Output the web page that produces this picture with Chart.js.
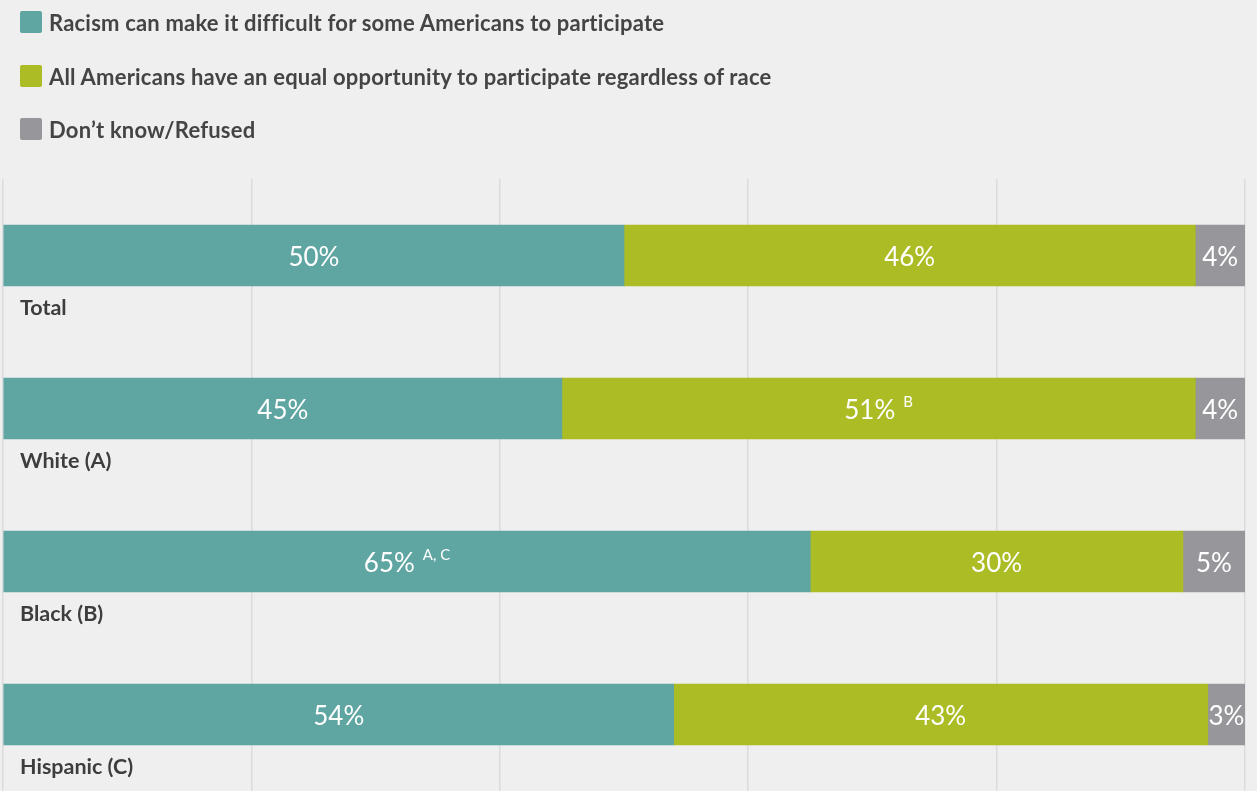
<!DOCTYPE html>
<html><head><meta charset="utf-8">
<script src="https://cdn.jsdelivr.net/npm/chart.js@4/dist/chart.umd.min.js"></script>
<style>
html,body{margin:0;padding:0;background:#efefef;overflow:hidden;}
#wrap{position:relative;width:1257px;height:791px;}
#legend{position:absolute;left:20px;top:0;font-family:Lato,"Open Sans",sans-serif;font-weight:bold;font-size:22px;letter-spacing:0.2px;color:#444;}
.li{position:absolute;left:0;white-space:nowrap;display:flex;align-items:center;height:24px;}
.sw{width:22px;height:22px;border-radius:2px;margin-right:7px;}
canvas{position:absolute;left:0;top:0;}
</style></head>
<body><div id="wrap"><canvas id="c" width="1257" height="791"></canvas><div id="legend"></div></div>
<script>
const categories = ["Total", "White (A)", "Black (B)", "Hispanic (C)"];
const seriesNames = ["Racism can make it difficult for some Americans to participate", "All Americans have an equal opportunity to participate regardless of race", "Don\u2019t know/Refused"];
const racism = [50, 45, 65, 54];
const equal = [46, 51, 30, 43];
const dontKnow = [4, 4, 5, 3];
const racismNotes = ["", "", "A, C", ""];
const equalNotes = ["", "B", "", ""];
const dontKnowNotes = ["", "", "", ""];
const colors = ["#5fa5a2", "#acbc25", "#97979b"];
const xTicks = [0, 20, 40, 60, 80, 100];

const leg = document.getElementById('legend');
const legTops = [10, 64, 117];
seriesNames.forEach((n,i)=>{
  const d=document.createElement('div');d.className='li';d.style.top=legTops[i]+'px';
  d.innerHTML='<span class="sw" style="background:'+colors[i]+'"></span><span>'+n+'</span>';
  leg.appendChild(d);
});

const notes = [racismNotes, equalNotes, dontKnowNotes];
const FONT='Lato, "Open Sans", sans-serif';
const labelPlugin = {
  id:'labels',
  afterDatasetsDraw(chart){
    const ctx=chart.ctx;
    ctx.save();
    chart.data.datasets.forEach((ds,di)=>{
      const meta=chart.getDatasetMeta(di);
      meta.data.forEach((bar,i)=>{
        const main=ds.data[i]+'%';
        const sup=notes[di][i];
        ctx.font='26px '+FONT;
        const w1=ctx.measureText(main).width;
        ctx.font='15px '+FONT;
        const w2=sup?ctx.measureText(sup).width+8:0;
        const left=Math.min(bar.base,bar.x), right=Math.max(bar.base,bar.x);
        let cx=(left+right)/2;
        let start=cx-(w1+w2)/2;
        if(start+w1+w2>right) start=right-(w1+w2);
        ctx.fillStyle='#fff';
        ctx.textBaseline='middle';ctx.textAlign='left';
        ctx.font='26px '+FONT;
        ctx.fillText(main,start,bar.y+2);
        if(sup){ctx.font='15px '+FONT;ctx.fillText(sup,start+w1+8,bar.y-6);}
      });
    });
    const ys=chart.scales.y;
    ctx.font='bold 21.5px '+FONT;
    ctx.fillStyle='#3d3d3d';ctx.textAlign='left';ctx.textBaseline='middle';
    categories.forEach((c,i)=>{ctx.fillText(c,20,ys.getPixelForValue(i)+53);});
    ctx.restore();
  }
};

new Chart(document.getElementById('c'),{
  type:'bar',
  data:{labels:categories,datasets:[
    {label:seriesNames[0],data:racism,backgroundColor:colors[0]},
    {label:seriesNames[1],data:equal,backgroundColor:colors[1]},
    {label:seriesNames[2],data:dontKnow,backgroundColor:colors[2]}
  ]},
  options:{
    indexAxis:'y',responsive:false,animation:false,
    layout:{padding:{top:179,left:3,right:12,bottom:0}},
    datasets:{bar:{barThickness:61,borderWidth:0}},
    plugins:{legend:{display:false},tooltip:{enabled:false}},
    scales:{
      x:{stacked:true,min:0,max:100,afterBuildTicks(s){s.ticks=xTicks.map(v=>({value:v}));},
         ticks:{display:false},grid:{color:'#dcdcdc',lineWidth:1.5,drawTicks:false},border:{display:false}},
      y:{stacked:true,display:false}
    }
  },
  plugins:[labelPlugin]
});
</script></body></html>
